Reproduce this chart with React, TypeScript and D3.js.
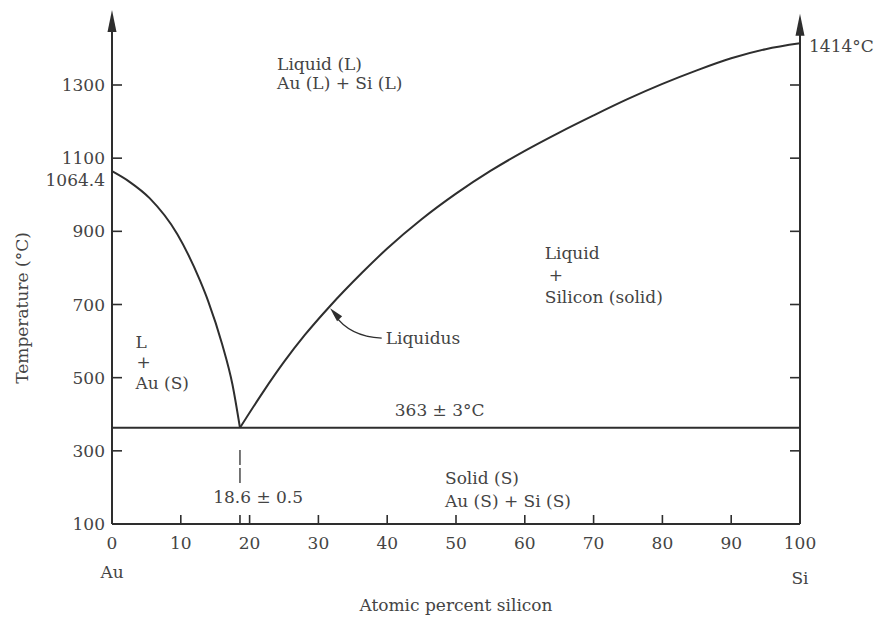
import React from "react";
import * as d3 from "d3";

const W = 884;
const H = 620;

// Au-side liquidus (atomic % Si, temperature °C)
const auLiquidusX = [0, 2.5, 5.5, 9.5, 12.8, 14, 16, 17.5, 18.6];
const auLiquidusT = [1064.4, 1036, 990, 892, 765, 708, 592, 482, 363];

// Si-side liquidus
const siLiquidusX = [18.6, 22, 25, 28, 31.7, 36.3, 40, 45, 50, 55, 60, 65, 70, 75, 80, 85, 90, 95, 100];
const siLiquidusT = [363, 462, 543, 616, 696, 786, 853, 933, 1003, 1065, 1120, 1170, 1217, 1262, 1303, 1340, 1373, 1398, 1414];

const eutecticT = 363;
const eutecticX = 18.6;

const xTicks = [0, 10, 20, 30, 40, 50, 60, 70, 80, 90, 100];
const yTicks = [100, 300, 500, 700, 900, 1100, 1300];
const yExtraLabel = 1064.4;

const FONT = "'DejaVu Serif', serif";
const TXT = "#444";
const LN = "#2e2e2e";

export default function App() {
  const x = d3.scaleLinear().domain([0, 100]).range([112, 800]);
  const y = d3.scaleLinear().domain([100, 1300]).range([524, 85]);

  const line = d3
    .line<[number, number]>()
    .x((d) => x(d[0]))
    .y((d) => y(d[1]))
    .curve(d3.curveMonotoneX);

  const auPts: [number, number][] = auLiquidusX.map((v, i) => [v, auLiquidusT[i]]);
  const siPts: [number, number][] = siLiquidusX.map((v, i) => [v, siLiquidusT[i]]);

  const x0 = x(0);
  const x1 = x(100);
  const yb = y(100);
  const leftTop = y(1505);
  const rightTop = y(1495);

  const arrowHead = (cx: number, tipY: number) =>
    `M${cx},${tipY} L${cx - 4.5},${tipY + 22} L${cx + 4.5},${tipY + 22} Z`;

  // annotation arrow for "Liquidus"
  const tipX = x(31.7);
  const tipY = y(690);
  const tailX = x(39.2);
  const tailY = y(608);
  const ctrlX = x(34.5);
  const ctrlY = y(612);

  const textStyle: React.CSSProperties = {
    fontFamily: FONT,
    fontSize: 17,
    fill: TXT,
  };

  return (
    <svg width={W} height={H} style={{ position: "absolute", left: 0, top: 0, background: "#fff" }}>
      <rect x={0} y={0} width={W} height={H} fill="#fff" />
      {/* axes */}
      <line x1={x0} y1={yb} x2={x0} y2={leftTop + 10} stroke={LN} strokeWidth={2} />
      <path d={arrowHead(x0, leftTop)} fill={LN} />
      <line x1={x1} y1={yb} x2={x1} y2={rightTop + 10} stroke={LN} strokeWidth={2} />
      <path d={arrowHead(x1, rightTop)} fill={LN} />
      <line x1={x0} y1={yb} x2={x1} y2={yb} stroke={LN} strokeWidth={2} />

      {/* y ticks */}
      {yTicks.filter((t) => t > 100).map((t) => (
        <g key={"yt" + t}>
          <line x1={x0} x2={x0 + 10} y1={y(t)} y2={y(t)} stroke={LN} strokeWidth={1.6} />
          <line x1={x1} x2={x1 - 10} y1={y(t)} y2={y(t)} stroke={LN} strokeWidth={1.6} />
        </g>
      ))}
      {yTicks.map((t) => (
        <text key={"yl" + t} x={x0 - 7} y={y(t)} textAnchor="end" dominantBaseline="central" style={textStyle}>
          {t}
        </text>
      ))}
      <text x={x0 - 7} y={y(yExtraLabel) + 9} textAnchor="end" dominantBaseline="central" style={textStyle}>
        {yExtraLabel}
      </text>

      {/* x ticks */}
      {xTicks.filter((t) => t > 0 && t < 100).concat([eutecticX]).map((t) => (
        <line key={"xt" + t} x1={x(t)} x2={x(t)} y1={yb} y2={yb - 9} stroke={LN} strokeWidth={1.6} />
      ))}
      {xTicks.map((t) => (
        <text key={"xl" + t} x={x(t)} y={yb + 19} textAnchor="middle" dominantBaseline="central" style={textStyle}>
          {t}
        </text>
      ))}

      {/* curves */}
      <path d={line(auPts) || ""} fill="none" stroke={LN} strokeWidth={2} />
      <path d={line(siPts) || ""} fill="none" stroke={LN} strokeWidth={2} />
      <line x1={x0} x2={x1} y1={y(eutecticT)} y2={y(eutecticT)} stroke={LN} strokeWidth={2} />

      {/* eutectic composition marker */}
      <line x1={x(eutecticX)} x2={x(eutecticX)} y1={y(302)} y2={y(261)} stroke={LN} strokeWidth={1.3} />
      <line x1={x(eutecticX)} x2={x(eutecticX)} y1={y(253)} y2={y(212)} stroke={LN} strokeWidth={1.3} />
      <text x={x(14.7)} y={y(174)} dominantBaseline="central" style={textStyle}>18.6 ± 0.5</text>

      {/* Liquidus annotation */}
      <path d={`M${tailX},${tailY} Q${ctrlX},${ctrlY} ${tipX + 4},${tipY + 6}`} fill="none" stroke={LN} strokeWidth={1.3} />
      <path
        d={`M${tipX},${tipY} L${tipX + 12},${tipY + 8} L${tipX + 7},${tipY + 13} Z`}
        fill={LN}
      />
      <text x={tailX + 4} y={tailY} dominantBaseline="central" style={textStyle}>Liquidus</text>

      {/* region labels */}
      <text x={x(24.0)} y={y(1358)} dominantBaseline="central" style={textStyle}>Liquid (L)</text>
      <text x={x(24.0)} y={y(1358) + 19} dominantBaseline="central" style={textStyle}>Au (L) + Si (L)</text>

      <text x={x(62.9)} y={y(841)} dominantBaseline="central" style={textStyle}>Liquid</text>
      <text x={x(62.9) + 4} y={y(841) + 22} dominantBaseline="central" style={textStyle}>+</text>
      <text x={x(62.9)} y={y(841) + 44} dominantBaseline="central" style={textStyle}>Silicon (solid)</text>

      <text x={x(3.4)} y={y(598)} dominantBaseline="central" style={textStyle}>L</text>
      <text x={x(3.4) + 1} y={y(598) + 20} dominantBaseline="central" style={textStyle}>+</text>
      <text x={x(3.4)} y={y(598) + 41} dominantBaseline="central" style={textStyle}>Au (S)</text>

      <text x={x(41.1)} y={y(411)} dominantBaseline="central" style={textStyle}>363 ± 3°C</text>

      <text x={x(48.4)} y={y(226)} dominantBaseline="central" style={textStyle}>Solid (S)</text>
      <text x={x(48.4)} y={y(226) + 23} dominantBaseline="central" style={textStyle}>Au (S) + Si (S)</text>

      <text x={x1 + 9} y={y(1414) + 3} dominantBaseline="central" style={textStyle}>1414°C</text>

      {/* element labels */}
      <text x={x0} y={yb + 48} textAnchor="middle" dominantBaseline="central" style={textStyle}>Au</text>
      <text x={x1} y={yb + 54} textAnchor="middle" dominantBaseline="central" style={textStyle}>Si</text>

      {/* axis titles */}
      <text x={(x0 + x1) / 2} y={605} textAnchor="middle" dominantBaseline="central" style={textStyle}>
        Atomic percent silicon
      </text>
      <text
        transform={`translate(22, 308) rotate(-90)`}
        textAnchor="middle"
        dominantBaseline="central"
        style={textStyle}
      >
        Temperature (°C)
      </text>
    </svg>
  );
}
